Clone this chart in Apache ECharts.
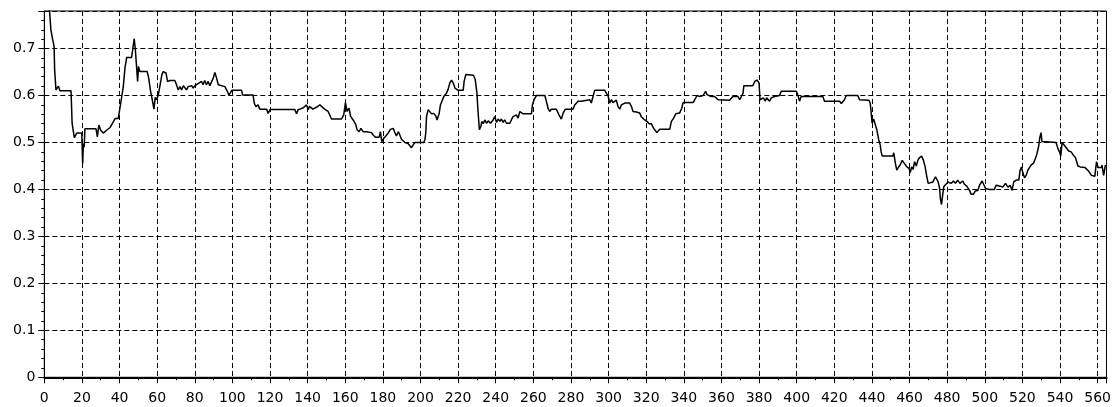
<!DOCTYPE html>
<html>
<head>
<meta charset="utf-8">
<script src="https://cdn.jsdelivr.net/npm/echarts@6/dist/echarts.min.js"></script>
<style>
  html, body { margin: 0; padding: 0; background: #fff; }
  #chart { width: 1114px; height: 407px; }
</style>
</head>
<body>
<div id="chart"></div>
<script>
// Sample positions (x) and measured values (y) of the trace
const sampleX = [
  0, 2.6, 3.5, 4.4, 5.2, 5.5, 6.2, 7.5, 8.3, 14.2, 14.8, 16.0, 17.2, 19.9, 20.4, 20.8, 21.2, 21.6,
  27.5, 28.2, 29.0, 30.0, 31.4, 33.1, 35.0, 36.3, 37.6, 39.3, 40.2, 41.1, 42.0, 42.9, 43.8, 46.4,
  47.0, 47.8, 48.4, 49.1, 49.6, 50.1, 50.8, 54.7, 55.5, 56.5, 57.4, 58.3, 59.0, 59.7, 60.6, 61.5,
  62.5, 63.2, 64.7, 65.5, 66.8, 69.4, 70.3, 71.2, 72.1, 73.0, 73.9, 75.6, 76.5, 78.3, 79.2, 80.1,
  83.6, 84.4, 85.3, 86.2, 87.1, 88.0, 89.0, 89.8, 90.7, 91.6, 92.5, 93.4, 96.0, 97.3, 98.1, 99.0,
  99.7, 104.9, 105.4, 111.0, 111.6, 112.5, 113.6, 114.6, 118.2, 119.0, 120.0, 133.2, 134.1, 135.0,
  136.5, 137.7, 139.4, 140.3, 141.0, 142.8, 144.6, 146.5, 147.4, 149.0, 150.9, 152.7, 158.0, 159.2,
  160.1, 161.0, 162.0, 162.8, 164.2, 165.6, 166.3, 167.4, 168.3, 169.5, 170.4, 171.3, 174.0, 174.8,
  176.2, 178.0, 178.7, 179.4, 180.5, 181.6, 182.8, 184.0, 185.5, 186.2, 187.2, 188.3, 189.0, 189.9,
  191.7, 193.4, 194.3, 195.2, 196.1, 197.0, 201.7, 202.3, 202.8, 203.2, 204.1, 205.0, 205.9, 207.0,
  208.1, 208.8, 209.9, 210.6, 211.7, 212.4, 213.8, 214.7, 215.6, 216.5, 217.4, 218.3, 219.2, 220.1,
  222.7, 223.2, 224.1, 228.2, 229.1, 230.0, 230.6, 231.3, 232.1, 232.6, 233.4, 234.2, 235.1, 236.0,
  237.2, 238.6, 239.5, 240.4, 241.3, 242.2, 243.0, 243.9, 244.8, 245.7, 247.5, 248.3, 249.2, 251.0,
  251.9, 252.8, 253.7, 254.5, 259.0, 259.5, 260.4, 261.6, 266.1, 266.9, 267.8, 268.7, 269.6, 272.2,
  273.6, 274.9, 275.8, 277.0, 281.1, 282.0, 283.8, 285.5, 286.4, 290.0, 290.8, 291.7, 292.6, 298.0,
  298.8, 299.7, 300.6, 301.5, 302.4, 303.3, 304.1, 305.0, 305.9, 306.8, 308.6, 311.2, 312.1, 313.0,
  313.9, 314.8, 316.5, 317.4, 319.2, 320.4, 321.5, 322.7, 323.6, 324.5, 325.7, 327.2, 332.5, 333.4,
  334.6, 335.7, 337.8, 338.9, 339.6, 344.9, 345.8, 347.0, 348.4, 350.2, 351.6, 352.3, 354.6, 356.4,
  358.2, 364.3, 365.2, 366.1, 368.8, 369.7, 370.6, 371.5, 371.9, 376.7, 377.7, 378.9, 380.0, 380.5,
  381.2, 382.3, 383.3, 384.0, 385.6, 386.5, 388.2, 390.9, 391.8, 399.8, 400.7, 401.5, 402.4, 413.9,
  414.8, 422.8, 423.7, 424.6, 425.4, 426.3, 432.5, 433.4, 438.4, 439.1, 439.6, 440.1, 440.9, 441.9,
  442.6, 443.6, 444.4, 444.9, 445.5, 451.1, 451.6, 452.5, 453.2, 454.1, 455.0, 456.1, 457.3, 458.6,
  459.7, 460.4, 461.1, 461.9, 462.7, 463.6, 464.4, 465.3, 466.4, 467.4, 468.3, 469.2, 469.9, 470.6,
  472.4, 473.8, 474.5, 475.2, 476.0, 476.4, 477.0, 477.7, 478.2, 479.1, 480.4, 482.2, 483.3, 484.4,
  485.6, 486.8, 488.3, 489.2, 490.4, 491.9, 492.7, 494.0, 495.0, 496.3, 497.2, 498.6, 499.3, 500.4,
  501.1, 502.5, 505.1, 506.0, 506.9, 508.2, 509.6, 511.0, 512.3, 513.5, 514.5, 515.4, 516.7, 518.1,
  518.8, 519.5, 520.2, 521.1, 522.0, 522.9, 523.8, 524.6, 525.9, 526.9, 527.6, 528.0, 528.6, 529.2,
  529.9, 530.4, 531.2, 537.9, 538.8, 539.7, 540.4, 541.1, 542.0, 542.9, 543.7, 544.6, 545.9, 547.1,
  548.2, 549.5, 550.7, 553.2, 555.0, 556.7, 558.5, 559.4, 560.2, 561.1, 562.0, 562.3, 563.2, 564.1
];
const sampleY = [
  0.83, 0.79, 0.74, 0.72, 0.705, 0.655, 0.612, 0.62, 0.61, 0.61, 0.54, 0.51, 0.52, 0.52, 0.455, 0.498, 0.49, 0.529,
  0.529, 0.512, 0.537, 0.526, 0.52, 0.526, 0.532, 0.541, 0.551, 0.551, 0.573, 0.576, 0.619, 0.659, 0.681, 0.681,
  0.698, 0.721, 0.698, 0.659, 0.63, 0.662, 0.651, 0.651, 0.637, 0.609, 0.591, 0.571, 0.596, 0.591, 0.601, 0.605,
  0.644, 0.651, 0.648, 0.63, 0.632, 0.632, 0.623, 0.612, 0.619, 0.612, 0.621, 0.612, 0.619, 0.621, 0.616, 0.621,
  0.63, 0.623, 0.632, 0.623, 0.63, 0.621, 0.621, 0.637, 0.649, 0.637, 0.623, 0.621, 0.619, 0.609, 0.601, 0.606,
  0.611, 0.611, 0.601, 0.601, 0.584, 0.576, 0.58, 0.571, 0.571, 0.562, 0.57, 0.57, 0.561, 0.57,
  0.572, 0.574, 0.58, 0.57, 0.577, 0.571, 0.575, 0.58, 0.577, 0.571, 0.566, 0.55, 0.55, 0.559,
  0.585, 0.566, 0.573, 0.556, 0.548, 0.538, 0.527, 0.523, 0.53, 0.523, 0.527, 0.523, 0.521, 0.516,
  0.511, 0.511, 0.523, 0.502, 0.509, 0.514, 0.52, 0.528, 0.53, 0.523, 0.514, 0.523, 0.516, 0.507,
  0.5, 0.498, 0.495, 0.489, 0.495, 0.5, 0.5, 0.505, 0.52, 0.555, 0.57, 0.567, 0.561, 0.562,
  0.557, 0.548, 0.561, 0.58, 0.591, 0.598, 0.605, 0.613, 0.627, 0.633, 0.627, 0.616, 0.614, 0.611,
  0.611, 0.63, 0.645, 0.643, 0.634, 0.605, 0.566, 0.527, 0.534, 0.545, 0.54, 0.548, 0.541, 0.546,
  0.541, 0.548, 0.555, 0.543, 0.55, 0.545, 0.55, 0.543, 0.548, 0.541, 0.541, 0.548, 0.555, 0.559,
  0.552, 0.566, 0.57, 0.561, 0.561, 0.58, 0.591, 0.6, 0.6, 0.588, 0.573, 0.566, 0.571, 0.571,
  0.559, 0.55, 0.562, 0.571, 0.571, 0.58, 0.588, 0.588, 0.591, 0.591, 0.584, 0.584, 0.611, 0.611,
  0.605, 0.6, 0.584, 0.591, 0.585, 0.584, 0.59, 0.577, 0.571, 0.58, 0.584, 0.584, 0.577, 0.566,
  0.563, 0.565, 0.563, 0.555, 0.548, 0.545, 0.54, 0.54, 0.533, 0.527, 0.521, 0.528, 0.528, 0.545,
  0.552, 0.561, 0.563, 0.573, 0.585, 0.585, 0.591, 0.6, 0.598, 0.6, 0.609, 0.602, 0.598, 0.598,
  0.591, 0.59, 0.593, 0.598, 0.598, 0.591, 0.598, 0.605, 0.621, 0.621, 0.63, 0.633, 0.627, 0.591,
  0.588, 0.595, 0.588, 0.595, 0.588, 0.595, 0.598, 0.6, 0.609, 0.609, 0.6, 0.588, 0.598, 0.598,
  0.588, 0.588, 0.583, 0.583, 0.591, 0.6, 0.6, 0.591, 0.59, 0.584, 0.563, 0.541, 0.55, 0.546,
  0.527, 0.506, 0.495, 0.48, 0.471, 0.471, 0.478, 0.455, 0.441, 0.447, 0.452, 0.462, 0.455, 0.448,
  0.445, 0.436, 0.448, 0.443, 0.459, 0.45, 0.462, 0.468, 0.471, 0.462, 0.448, 0.427, 0.413, 0.409,
  0.416, 0.427, 0.428, 0.416, 0.402, 0.38, 0.368, 0.391, 0.406, 0.409, 0.416, 0.413, 0.418, 0.413,
  0.42, 0.413, 0.418, 0.411, 0.407, 0.398, 0.39, 0.39, 0.397, 0.398, 0.409, 0.418, 0.416, 0.402,
  0.398, 0.4, 0.4, 0.409, 0.413, 0.407, 0.405, 0.413, 0.405, 0.409, 0.398, 0.416, 0.42, 0.42,
  0.441, 0.448, 0.436, 0.425, 0.43, 0.441, 0.437, 0.452, 0.456, 0.466, 0.474, 0.473, 0.491, 0.509,
  0.521, 0.502, 0.5, 0.5, 0.488, 0.48, 0.471, 0.5, 0.5, 0.491, 0.495, 0.482, 0.48, 0.473,
  0.468, 0.45, 0.448, 0.447, 0.44, 0.43, 0.428, 0.459, 0.447, 0.45, 0.447, 0.452, 0.43, 0.452
];

// Axis ranges and tick spacing
const xRange = [0, 564.7];
const xStep = 20;
const yRange = [0, 0.78];
const yStep = 0.1;

const points = sampleX.map((x, i) => [x, sampleY[i]]);

const font = { fontFamily: 'DejaVu Sans', fontSize: 14, color: '#000' };
const dashed = { color: '#000', width: 1, type: [5, 3] };

const chart = echarts.init(document.getElementById('chart'), null, { renderer: 'canvas' });
chart.setOption({
  animation: false,
  backgroundColor: '#fff',
  grid: {
    left: 44.3, right: 7, top: 11, bottom: 29.7,
    show: true, borderColor: '#000', borderWidth: 1, backgroundColor: '#fff'
  },
  xAxis: {
    type: 'value',
    min: xRange[0], max: xRange[1], interval: xStep,
    axisLine: { show: true, lineStyle: { color: '#000', width: 2 } },
    axisTick: { show: true, length: 6, lineStyle: { color: '#000', width: 1 } },
    minorTick: { show: true, splitNumber: 2, length: 3, lineStyle: { color: '#000', width: 1 } },
    axisLabel: Object.assign({ margin: 14, showMaxLabel: false }, font),
    splitLine: { show: true, lineStyle: dashed }
  },
  yAxis: {
    type: 'value',
    min: yRange[0], max: yRange[1], interval: yStep,
    axisLine: { show: true, lineStyle: { color: '#000', width: 1 } },
    axisTick: { show: true, length: 6, lineStyle: { color: '#000', width: 1 } },
    minorTick: { show: true, splitNumber: 5, length: 3, lineStyle: { color: '#000', width: 1 } },
    axisLabel: Object.assign({ margin: 9, showMaxLabel: false }, font),
    splitLine: { show: true, lineStyle: dashed }
  },
  series: [{
    type: 'line',
    data: points,
    showSymbol: false,
    clip: true,
    lineStyle: { color: '#000', width: 1.5 }
  }]
});
</script>
</body>
</html>
